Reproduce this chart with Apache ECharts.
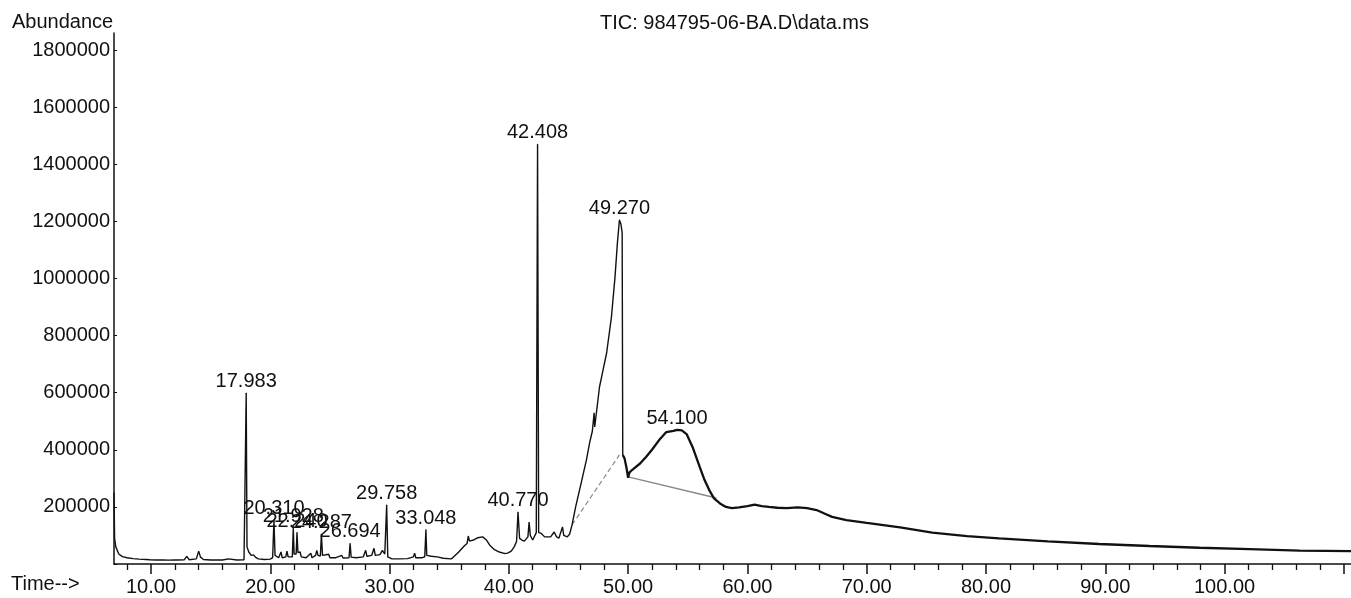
<!DOCTYPE html>
<html>
<head>
<meta charset="utf-8">
<script src="https://cdn.jsdelivr.net/npm/echarts@6/dist/echarts.min.js"></script>
<style>
html,body{margin:0;padding:0;background:#fff;}
#chart{width:1351px;height:598px;}
</style>
</head>
<body>
<div id="chart"></div>
<script>
// ---- data ----
const times = [6.90,6.95,7.05,7.3,7.6,8.0,8.5,9.0,9.6,9.75,9.9,10.5,11.0,11.5,12.0,12.1,12.2,12.8,13.0,13.2,13.8,14.0,14.15,14.4,15.0,16.0,16.5,16.6,17.2,17.8,17.9,17.983,18.05,18.2,18.4,18.6,18.75,19.0,19.5,20.0,20.2,20.31,20.4,20.7,20.9,21.0,21.3,21.4,21.5,21.85,21.928,22.0,22.17,22.24,22.32,22.5,22.6,23.0,23.4,23.5,23.8,23.9,24.0,24.2,24.287,24.38,24.9,25.0,25.5,26.0,26.1,26.6,26.694,26.78,27.2,27.8,28.0,28.1,28.5,28.7,28.8,29.2,29.4,29.6,29.758,29.85,30.2,30.8,31.5,32.0,32.1,32.2,32.7,32.95,33.048,33.12,33.5,34.0,34.5,35.2,35.8,36.3,36.5,36.6,36.7,37.1,37.4,37.8,38.1,38.4,38.8,39.2,39.6,39.9,40.2,40.45,40.65,40.77,40.9,41.1,41.3,41.6,41.7,41.8,42.0,42.3,42.408,42.5,42.7,43.0,43.1,43.5,43.8,44.0,44.2,44.5,44.6,44.9,45.1,45.3,45.6,46.1,46.5,46.8,47.0,47.1,47.15,47.2,47.6,47.9,48.2,48.6,48.9,49.1,49.27,49.4,49.5,49.55,49.7,49.85,50.0,50.1,50.35,51.0,51.5,52.0,52.6,53.2,53.8,54.1,54.5,54.9,55.4,56.0,56.4,56.8,57.2,57.7,58.2,58.7,59.3,60.0,60.6,61.2,61.8,62.5,63.3,64.2,65.0,65.8,66.5,67.1,68.3,70.0,72.8,75.5,78.4,81.1,85.2,89.5,93.7,97.9,102.1,106.3,110.6];
const abundance = [250000,90000,60000,35000,26000,22000,19000,17000,16000,20000,15000,14000,14000,13500,14000,20000,14000,15000,27000,15000,18000,45000,24000,16000,14000,14000,18000,14000,14000,15000,20000,599000,60000,42000,30000,32000,24000,18000,16000,17000,22000,155000,30000,22000,42000,22000,25000,45000,25000,25000,125000,35000,35000,110000,40000,42000,25000,22000,38000,22000,30000,48000,30000,28000,105000,30000,34000,22000,22000,30000,21000,22000,72000,24000,22000,25000,48000,27000,30000,55000,30000,33000,48000,35000,207000,25000,18000,18000,19000,25000,38000,22000,22000,25000,120000,30000,27000,25000,20000,18000,42000,65000,72000,98000,80000,85000,92000,95000,85000,66000,50000,42000,37000,38000,45000,60000,80000,182000,90000,84000,80000,95000,147000,100000,84000,110000,1470000,110000,108000,95000,91000,95000,112000,95000,91000,130000,100000,95000,105000,137000,200000,290000,364000,430000,465000,470000,530000,480000,620000,680000,740000,865000,1005000,1124000,1205000,1190000,1160000,382000,370000,340000,302000,320000,330000,352000,375000,400000,434000,462000,466000,470000,468000,455000,410000,340000,295000,259000,230000,212000,200000,196000,198000,203000,208000,203000,200000,197000,196000,198000,196000,189000,176000,165000,154000,144000,128000,110000,98000,90000,79000,70000,63000,57000,52000,47000,45000];

const peakTimes   = [17.983,20.310,21.928,22.240,24.287,26.694,29.758,33.048,40.770,42.408,49.270,54.100];
const peakHeights = [599000,155000,125000,110000,105000,72000,207000,120000,182000,1470000,1205000,470000];
const peakLabels  = ["17.983","20.310","21.928","22.240","24.287","26.694","29.758","33.048","40.770","42.408","49.270","54.100"];

const dashBaseT = [45.3, 49.27];
const dashBaseV = [137000, 382000];
const solidBaseT = [50.0, 57.4];
const solidBaseV = [305000, 231000];

const xLabelValues = [10,20,30,40,50,60,70,80,90,100];
const xMajorTicks  = [10,20,30,40,50,60,70,80,90,100,110];
const xMinorTicks  = [8,12,14,16,18,22,24,26,28,32,34,36,38,42,44,46,48,52,54,56,58,62,64,66,68,72,74,76,78,82,84,86,88,92,94,96,98,102,104,106,108];

const titleText = "TIC: 984795-06-BA.D\\data.ms";
const yName = "Abundance";
const xName = "Time-->";

// ---- build ----
const FONT = "'Liberation Sans', Arial, sans-serif";
const FS = 20;
const SPLIT = 49.55;
const early = [], late = [];
times.forEach((t, i) => {
  if (t <= SPLIT) early.push([t, abundance[i]]);
  if (t >= SPLIT) late.push([t, abundance[i]]);
});
const peaks = peakTimes.map((t, i) => [t, peakHeights[i]]);

const chart = echarts.init(document.getElementById('chart'), null, {renderer: 'canvas'});
const XMIN = 6.9, XMAX = 110.6;
chart.setOption({
  animation: false,
  backgroundColor: '#ffffff',
  textStyle: {fontFamily: FONT},
  grid: {left: 114, right: 0, top: 33, bottom: 34, containLabel: false},
  graphic: [
    {type: 'text', left: 12, top: 12, style: {text: yName, font: FS + 'px ' + FONT, fill: '#111'}},
    {type: 'text', left: 11, top: 574, style: {text: xName, font: FS + 'px ' + FONT, fill: '#111'}},
    {type: 'text', left: 600, top: 13, style: {text: titleText, font: FS + 'px ' + FONT, fill: '#111'}}
  ],
  xAxis: [
    {
      type: 'value', min: XMIN, max: XMAX, position: 'bottom',
      axisLine: {show: true, onZero: false, lineStyle: {color: '#111', width: 1.5}},
      axisTick: {show: true, length: 10, inside: false, customValues: xMajorTicks, lineStyle: {color: '#111', width: 1.5}},
      axisLabel: {show: true, customValues: xLabelValues, margin: 13, fontSize: FS, color: '#111', fontFamily: FONT,
        formatter: v => Number(v).toFixed(2)},
      splitLine: {show: false}
    },
    {
      type: 'value', min: XMIN, max: XMAX, position: 'bottom',
      axisLine: {show: false, onZero: false},
      axisTick: {show: true, length: 6, inside: false, customValues: xMinorTicks, lineStyle: {color: '#111', width: 1.3}},
      axisLabel: {show: false},
      splitLine: {show: false}
    }
  ],
  yAxis: {
    type: 'value', min: 0, max: 1860000, interval: 200000,
    axisLine: {show: true, onZero: false, lineStyle: {color: '#111', width: 1.5}},
    axisTick: {show: true, inside: true, length: 3, lineStyle: {color: '#111'}},
    axisLabel: {margin: 4, fontSize: FS, color: '#111', fontFamily: FONT,
      formatter: v => v === 0 ? '' : String(v)},
    splitLine: {show: false}
  },
  series: [
    {type: 'line', name: 'baseline-dash', xAxisIndex: 0, data: dashBaseT.map((t, i) => [t, dashBaseV[i]]),
      showSymbol: false, symbol: 'none', lineStyle: {color: '#888', width: 1.2, type: [5, 3]}, z: 1},
    {type: 'line', name: 'baseline-solid', xAxisIndex: 0, data: solidBaseT.map((t, i) => [t, solidBaseV[i]]),
      showSymbol: false, symbol: 'none', lineStyle: {color: '#888', width: 1.4}, z: 1},
    {type: 'line', name: 'TIC', xAxisIndex: 0, data: early, showSymbol: false, symbol: 'none',
      lineStyle: {color: '#111', width: 1.4}, z: 3},
    {type: 'line', name: 'TIC2', xAxisIndex: 0, data: late, showSymbol: false, symbol: 'none',
      lineStyle: {color: '#111', width: 2.3}, z: 3},
    {type: 'scatter', name: 'peaks', xAxisIndex: 0, data: peaks, symbolSize: 1,
      itemStyle: {color: '#111', opacity: 1},
      label: {show: true, position: 'top', distance: 1, fontSize: FS, color: '#111', opacity: 1, fontFamily: FONT,
        formatter: p => peakLabels[p.dataIndex]}, z: 5}
  ]
});
</script>
</body>
</html>
